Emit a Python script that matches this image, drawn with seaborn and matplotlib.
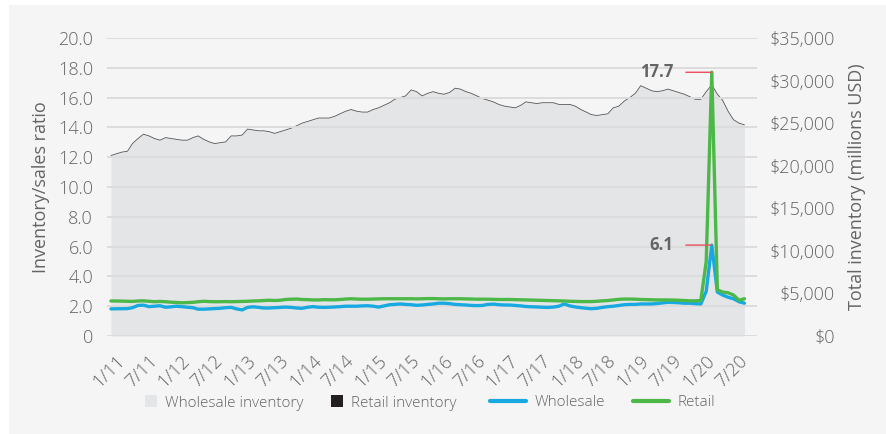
import numpy as np
import pandas as pd
import matplotlib
matplotlib.use("Agg")
import matplotlib.pyplot as plt
import seaborn as sns
from matplotlib.lines import Line2D
from matplotlib.patches import Patch, Rectangle

# Monthly series, November 2010 through July 2020
first_month = "2010-11-01"

# Wholesale inventory, millions USD (right axis)
wholesale_inventory = [
    21200, 21400,
    21600, 21700, 22600, 23200, 23700, 23500, 23200, 23000, 23300, 23200, 23100, 23000,
    23000, 23300, 23500, 23100, 22800, 22600, 22700, 22800, 23500, 23500, 23600, 24300,
    24200, 24100, 24100, 24000, 23800, 24000, 24200, 24400, 24700, 25000, 25200, 25400,
    25600, 25600, 25600, 25800, 26100, 26400, 26600, 26400, 26300, 26300, 26600, 26800,
    27100, 27400, 27800, 28000, 28200, 28900, 28700, 28200, 28500, 28700, 28500, 28400,
    28600, 29100, 29000, 28700, 28500, 28200, 27900, 27700, 27500, 27200, 27000, 26900,
    26800, 27100, 27500, 27400, 27300, 27400, 27400, 27400, 27200, 27200, 27200, 27000,
    26600, 26300, 26000, 25900, 26000, 26100, 26800, 27000, 27600, 28000, 28500, 29400,
    29100, 28800, 28700, 28800, 29000, 28800, 28600, 28400, 28100, 27800, 27800, 28700,
    29500, 28400, 27700, 26400, 25400, 25000, 24800,
]

# Inventory/sales ratios (left axis)
wholesale_ratio = [
    1.82, 1.83,
    1.83, 1.84, 1.90, 2.05, 2.07, 1.97, 2.00, 2.03, 1.93, 1.96, 2.00, 1.97,
    1.93, 1.90, 1.80, 1.80, 1.82, 1.84, 1.86, 1.90, 1.92, 1.82, 1.75, 1.92,
    1.96, 1.92, 1.88, 1.88, 1.90, 1.92, 1.94, 1.92, 1.88, 1.86, 1.93, 1.97,
    1.93, 1.92, 1.93, 1.95, 1.97, 2.00, 2.00, 2.00, 2.02, 2.03, 2.00, 1.94,
    2.02, 2.10, 2.12, 2.15, 2.12, 2.10, 2.06, 2.08, 2.12, 2.15, 2.20, 2.20,
    2.17, 2.12, 2.10, 2.08, 2.05, 2.04, 2.05, 2.12, 2.14, 2.10, 2.08, 2.08,
    2.05, 2.02, 1.98, 1.96, 1.95, 1.93, 1.92, 1.94, 2.00, 2.15, 2.02, 1.95,
    1.90, 1.86, 1.83, 1.86, 1.92, 1.97, 2.00, 2.05, 2.10, 2.12, 2.12, 2.15,
    2.15, 2.15, 2.18, 2.22, 2.26, 2.25, 2.23, 2.20, 2.20, 2.17, 2.15, 3.00,
    6.10, 2.95, 2.75, 2.60, 2.50, 2.30, 2.20,
]

retail_ratio = [
    2.35, 2.35,
    2.34, 2.33, 2.32, 2.35, 2.36, 2.33, 2.30, 2.32, 2.30, 2.27, 2.25, 2.23,
    2.24, 2.26, 2.30, 2.33, 2.31, 2.30, 2.30, 2.31, 2.30, 2.31, 2.32, 2.33,
    2.35, 2.36, 2.38, 2.40, 2.38, 2.40, 2.45, 2.47, 2.48, 2.45, 2.44, 2.42,
    2.42, 2.44, 2.43, 2.43, 2.45, 2.48, 2.50, 2.48, 2.47, 2.47, 2.48, 2.49,
    2.50, 2.50, 2.50, 2.50, 2.50, 2.50, 2.49, 2.50, 2.51, 2.51, 2.50, 2.49,
    2.50, 2.50, 2.50, 2.49, 2.48, 2.47, 2.47, 2.47, 2.46, 2.45, 2.45, 2.45,
    2.44, 2.43, 2.42, 2.41, 2.40, 2.39, 2.38, 2.37, 2.36, 2.35, 2.33, 2.32,
    2.31, 2.31, 2.31, 2.33, 2.36, 2.38, 2.42, 2.46, 2.48, 2.48, 2.47, 2.45,
    2.44, 2.43, 2.42, 2.42, 2.42, 2.41, 2.40, 2.38, 2.36, 2.36, 2.38, 5.00,
    17.70, 3.10, 2.95, 2.90, 2.75, 2.40, 2.50,
]

x_tick_labels = ["1/11", "7/11", "1/12", "7/12", "1/13", "7/13", "1/14", "7/14",
                 "1/15", "7/15", "1/16", "7/16", "1/17", "7/17", "1/18", "7/18",
                 "1/19", "7/19", "1/20", "7/20"]
ratio_ticks = [0, 2, 4, 6, 8, 10, 12, 14, 16, 18, 20]
inventory_ticks = [0, 5000, 10000, 15000, 20000, 25000, 30000, 35000]

# Colours
BG = "#f5f5f5"
GRID = "#dcdcdc"
TEXT = "#646464"
AREA = "#e4e5e7"
OUTLINE = "#555555"
BLUE = "#19a9e1"
GREEN = "#4cb848"
RED = "#e8505b"
BLACK = "#231f20"

sns.set_style("white")
plt.rcParams["font.family"] = ["Open Sans", "DejaVu Sans"]
plt.rcParams["font.weight"] = "light"

dates = pd.date_range(first_month, periods=len(wholesale_inventory), freq="MS")
ratios = pd.DataFrame({
    "date": np.concatenate([dates, dates]),
    "ratio": wholesale_ratio + retail_ratio,
    "series": ["Wholesale"] * len(dates) + ["Retail"] * len(dates),
})
inventory = pd.DataFrame({"date": dates, "inventory": wholesale_inventory})

W, H = 886, 434
fig = plt.figure(figsize=(W / 100, H / 100), dpi=100, facecolor="white")
fig.patches.append(Rectangle((9 / W, 0), 1 - 9 / W, (H - 5) / H,
                             transform=fig.transFigure, facecolor=BG,
                             edgecolor="none", zorder=-10))

ax = fig.add_axes([107 / W, 98 / H, 650 / W, 298 / H])
ax2 = ax.twinx()
ax.set_zorder(ax2.get_zorder() + 1)
ax.patch.set_visible(False)
ax2.patch.set_visible(False)

# Inventory area on the right axis
ax2.fill_between(inventory["date"], 0, inventory["inventory"],
                 color=AREA, linewidth=0)
sns.lineplot(data=inventory, x="date", y="inventory", ax=ax2,
             color=OUTLINE, linewidth=0.6)

# Ratio lines on the left axis
sns.lineplot(data=ratios, x="date", y="ratio", hue="series",
             hue_order=["Wholesale", "Retail"],
             palette={"Wholesale": BLUE, "Retail": GREEN},
             linewidth=2.4, ax=ax, legend=False)

x0 = dates[0] - pd.Timedelta(days=22)
x1 = dates[-1] + pd.Timedelta(days=70)
ax.set_xlim(x0, x1)
ax.set_ylim(0, 20)
ax2.set_ylim(0, 35000)

ax.yaxis.grid(True, color=GRID, linewidth=1.4)
ax.xaxis.grid(False)
ax2.grid(False)
for a in (ax, ax2):
    for s in a.spines.values():
        s.set_visible(False)
    a.set_xlabel("")

tick_dates = [pd.Timestamp(year=2000 + int(l.split("/")[1]), month=int(l.split("/")[0]), day=1)
              for l in x_tick_labels]
ax.set_xticks(tick_dates)
ax.set_xticklabels(x_tick_labels, rotation=45, ha="right", va="center",
                   rotation_mode="anchor", fontsize=13, color=TEXT)
ax.tick_params(axis="x", length=0, pad=16)

ax.set_yticks(ratio_ticks)
ax.set_yticklabels(["0" if t == 0 else f"{t:.1f}" for t in ratio_ticks],
                   fontsize=13, color=TEXT)
ax.tick_params(axis="y", length=0, pad=10)

ax2.set_yticks(inventory_ticks)
ax2.set_yticklabels([f"${t:,.0f}" for t in inventory_ticks], fontsize=13, color=TEXT)
ax2.tick_params(axis="y", length=0, pad=56)
for lab in ax2.get_yticklabels():
    lab.set_horizontalalignment("right")

ax.set_ylabel("Inventory/sales ratio", fontsize=13, color=TEXT)
ax.yaxis.set_label_coords(-57 / 650, 0.5)
ax2.set_ylabel("Total inventory (millions USD)", fontsize=13, color=TEXT)
ax2.yaxis.set_label_coords(1 + 91 / 650, 0.5)

# Peak call-outs
for series in ("Retail", "Wholesale"):
    sub = ratios[ratios["series"] == series].reset_index(drop=True)
    k = sub["ratio"].idxmax()
    ax.annotate(f"{sub['ratio'][k]:.1f}", xy=(sub["date"][k], sub["ratio"][k]),
                xytext=(-27.5, 0), textcoords="offset points",
                ha="right", va="center", fontsize=12, fontweight="bold", color=TEXT,
                arrowprops=dict(arrowstyle="-", color=RED, lw=1.0,
                                shrinkA=6.5, shrinkB=0, relpos=(1, 0.5)))

# Legend: square swatches for the inventories, lines for the ratios
fs = 11
fpx = fs * 100 / 72
patch_handles = [Patch(facecolor=AREA, edgecolor="none"),
                 Patch(facecolor=BLACK, edgecolor="none")]
line_handles = [Line2D([], [], color=BLUE, lw=3),
                Line2D([], [], color=GREEN, lw=3)]
fig.legend(patch_handles, ["Wholesale inventory", "Retail inventory"],
           loc="center left", bbox_to_anchor=(145 / W, (H - 403) / H),
           ncol=2, frameon=False, fontsize=fs, labelcolor=TEXT,
           handlelength=12 / fpx, handleheight=12 / fpx,
           handletextpad=8 / fpx, columnspacing=28 / fpx,
           borderpad=0, borderaxespad=0)
fig.legend(line_handles, ["Wholesale", "Retail"],
           loc="center left", bbox_to_anchor=(490 / W, (H - 403) / H),
           ncol=2, frameon=False, fontsize=fs, labelcolor=TEXT,
           handlelength=36 / fpx, handletextpad=9 / fpx,
           columnspacing=27 / fpx, borderpad=0, borderaxespad=0)

fig.savefig("out.png", dpi=100, facecolor=fig.get_facecolor())
